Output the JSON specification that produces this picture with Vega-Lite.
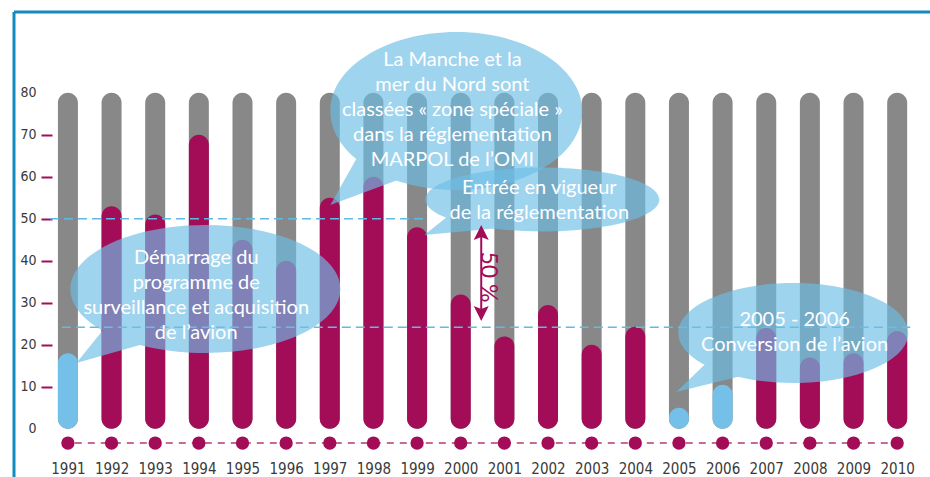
{
  "$schema": "https://vega.github.io/schema/vega-lite/v6.json",
  "autosize": {"type": "none"},
  "width": 872,
  "height": 378,
  "padding": {"left": 52, "top": 76, "right": 6, "bottom": 23},
  "background": "#ffffff",
  "config": {"view": {"stroke": null}},
  "data": {
    "values": [
      {"annee": 1991, "valeur": 18, "total": 80, "statut": "transition"},
      {"annee": 1992, "valeur": 53, "total": 80, "statut": "standard"},
      {"annee": 1993, "valeur": 51, "total": 80, "statut": "standard"},
      {"annee": 1994, "valeur": 70, "total": 80, "statut": "standard"},
      {"annee": 1995, "valeur": 45, "total": 80, "statut": "standard"},
      {"annee": 1996, "valeur": 40, "total": 80, "statut": "standard"},
      {"annee": 1997, "valeur": 55, "total": 80, "statut": "standard"},
      {"annee": 1998, "valeur": 60, "total": 80, "statut": "standard"},
      {"annee": 1999, "valeur": 48, "total": 80, "statut": "standard"},
      {"annee": 2000, "valeur": 32, "total": 80, "statut": "standard"},
      {"annee": 2001, "valeur": 22, "total": 80, "statut": "standard"},
      {"annee": 2002, "valeur": 29.5, "total": 80, "statut": "standard"},
      {"annee": 2003, "valeur": 20, "total": 80, "statut": "standard"},
      {"annee": 2004, "valeur": 24.3, "total": 80, "statut": "standard"},
      {"annee": 2005, "valeur": 5, "total": 80, "statut": "transition"},
      {"annee": 2006, "valeur": 10.5, "total": 80, "statut": "transition"},
      {"annee": 2007, "valeur": 24, "total": 80, "statut": "standard"},
      {"annee": 2008, "valeur": 17, "total": 80, "statut": "standard"},
      {"annee": 2009, "valeur": 18, "total": 80, "statut": "standard"},
      {"annee": 2010, "valeur": 23.3, "total": 80, "statut": "standard"}
    ]
  },
  "layer": [
    {
      "data": {"values": [{}]},
      "mark": {"type": "rule", "color": "#138bbf", "strokeWidth": 3},
      "encoding": {
        "x": {"datum": 1989.765, "type": "quantitative", "scale": {"domain": [1990.75, 2010.5], "nice": false, "zero": false}},
        "x2": {"datum": 2011.5},
        "y": {"datum": 99.24, "type": "quantitative", "scale": {"domain": [-6, 84], "nice": false, "zero": false}}
      }
    },
    {
      "data": {"values": [{}]},
      "mark": {"type": "rule", "color": "#138bbf", "strokeWidth": 3},
      "encoding": {
        "x": {"datum": 1989.765, "type": "quantitative"},
        "y": {"datum": 99.24, "type": "quantitative"},
        "y2": {"datum": -14}
      }
    },
    {
      "mark": {"type": "bar", "width": 20, "cornerRadius": 10, "color": "#878887"},
      "encoding": {
        "x": {
          "field": "annee", "type": "quantitative",
          "scale": {"domain": [1990.75, 2010.5], "nice": false, "zero": false},
          "axis": {
            "values": [1991,1992,1993,1994,1995,1996,1997,1998,1999,2000,2001,2002,2003,2004,2005,2006,2007,2008,2009,2010],
            "format": "d", "title": null, "grid": false, "domain": false, "ticks": false, "tickSize": 0,
            "labelPadding": 7, "labelFont": "Liberation Sans Narrow, DejaVu Sans Condensed, Lato", "labelFontSize": 15,
            "labelColor": "#3a3a3a", "labelFlush": false, "labelOverlap": false
          }
        },
        "y": {
          "field": "total", "type": "quantitative",
          "scale": {"domain": [-6, 84], "nice": false, "zero": false},
          "axis": {
            "values": [0, 10, 20, 30, 40, 50, 60, 70, 80],
            "title": null, "grid": false, "domain": false, "tickSize": 11, "tickWidth": 2,
            "tickColor": {"condition": {"test": "datum.value === 0 || datum.value === 80", "value": "transparent"}, "value": "#a30d58"},
            "labelPadding": 5, "labelFont": "Liberation Sans Narrow, DejaVu Sans Condensed, Lato", "labelFontSize": 14,
            "labelColor": "#3a3a3a"
          }
        },
        "y2": {"datum": 0}
      }
    },
    {
      "mark": {"type": "bar", "width": 20, "cornerRadius": 10},
      "encoding": {
        "x": {"field": "annee", "type": "quantitative"},
        "y": {"field": "valeur", "type": "quantitative"},
        "y2": {"datum": 0},
        "color": {"field": "statut", "type": "nominal", "scale": {"domain": ["standard", "transition"], "range": ["#a30d58", "#74c0e8"]}, "legend": null}
      }
    },
    {
      "data": {"values": [{"debut": 1990.59, "fin": 1999.2, "niveau": 50}, {"debut": 1990.86, "fin": 2010.3, "niveau": 24.2}]},
      "mark": {"type": "rule", "color": "#62b9e4", "strokeWidth": 1.5, "strokeDash": [9, 5]},
      "encoding": {
        "x": {"field": "debut", "type": "quantitative"},
        "x2": {"field": "fin"},
        "y": {"field": "niveau", "type": "quantitative"}
      }
    },
    {
      "data": {"values": [{}]},
      "mark": {"type": "rule", "color": "#b23a78", "strokeWidth": 1.5, "strokeDash": [7, 6]},
      "encoding": {
        "x": {"datum": 1990.86, "type": "quantitative"},
        "x2": {"datum": 2010.1},
        "y": {"datum": -3.4, "type": "quantitative"}
      }
    },
    {
      "mark": {"type": "point", "shape": "circle", "filled": true, "size": 177, "color": "#a30d58", "opacity": 1},
      "encoding": {
        "x": {"field": "annee", "type": "quantitative"},
        "y": {"datum": -3.4, "type": "quantitative"}
      }
    },
    {
      "data": {"values": [{}]},
      "mark": {"type": "point", "filled": true, "size": 40000, "color": "#6dbde6", "opacity": 0.66, "strokeWidth": 0,
        "shape": "M1.35,0C1.35,0.3535,0.7456,0.64,0,0.64C-0.7456,0.64,-1.35,0.3535,-1.35,0C-1.35,-0.3535,-0.7456,-0.64,0,-0.64C0.7456,-0.64,1.35,-0.3535,1.35,0ZM-1,0.38L-0.62,0.55L-1.29,0.74Z"},
      "encoding": {"x": {"datum": 1994.15, "type": "quantitative"}, "y": {"datum": 33.3, "type": "quantitative"}}
    },
    {
      "data": {"values": [{}]},
      "mark": {"type": "point", "filled": true, "size": 40000, "color": "#6dbde6", "opacity": 0.66, "strokeWidth": 0,
        "shape": "M1.26,0C1.26,0.4363,0.6959,0.79,0,0.79C-0.6959,0.79,-1.26,0.4363,-1.26,0C-1.26,-0.4363,-0.6959,-0.79,0,-0.79C0.6959,-0.79,1.26,-0.4363,1.26,0ZM-0.99,0.46L-0.56,0.68L-1.26,0.94Z"},
      "encoding": {"x": {"datum": 1999.9, "type": "quantitative"}, "y": {"datum": 75.67, "type": "quantitative"}}
    },
    {
      "data": {"values": [{}]},
      "mark": {"type": "point", "filled": true, "size": 40000, "color": "#6dbde6", "opacity": 0.66, "strokeWidth": 0,
        "shape": "M1.17,0C1.17,0.1767,0.6462,0.32,0,0.32C-0.6462,0.32,-1.17,0.1767,-1.17,0C-1.17,-0.1767,-0.6462,-0.32,0,-0.32C0.6462,-0.32,1.17,-0.1767,1.17,0ZM-0.93,0.155L-0.43,0.285L-1.18,0.355Z"},
      "encoding": {"x": {"datum": 2001.87, "type": "quantitative"}, "y": {"datum": 54.6, "type": "quantitative"}}
    },
    {
      "data": {"values": [{}]},
      "mark": {"type": "point", "filled": true, "size": 40000, "color": "#6dbde6", "opacity": 0.66, "strokeWidth": 0,
        "shape": "M1.15,0C1.15,0.2762,0.6351,0.5,0,0.5C-0.6351,0.5,-1.15,0.2762,-1.15,0C-1.15,-0.2762,-0.6351,-0.5,0,-0.5C0.6351,-0.5,1.15,-0.2762,1.15,0ZM-0.87,0.3L-0.48,0.42L-1.17,0.59Z"},
      "encoding": {"x": {"datum": 2007.62, "type": "quantitative"}, "y": {"datum": 22.81, "type": "quantitative"}}
    },
    {
      "data": {"values": [
        {"px": 1993.94, "py": 40.67, "texte": ["Démarrage du", "programme de", "surveillance et acquisition", "de l’avion"]},
        {"px": 1999.81, "py": 87.81, "texte": ["La Manche et la", "mer du Nord sont", "classées « zone spéciale »", "dans la réglementation", "MARPOL de l’OMI"]},
        {"px": 2001.8, "py": 57.33, "texte": ["Entrée en vigueur", "de la réglementation"]},
        {"px": 2007.65, "py": 25.9, "texte": ["2005 - 2006", "Conversion de l’avion"]}
      ]},
      "mark": {"type": "text", "color": "#ffffff", "font": "Lato", "fontSize": 20, "lineHeight": 25, "align": "center", "baseline": "middle"},
      "encoding": {
        "x": {"field": "px", "type": "quantitative"},
        "y": {"field": "py", "type": "quantitative"},
        "text": {"field": "texte"}
      }
    },
    {
      "data": {"values": [{}]},
      "mark": {"type": "rule", "color": "#a30d58", "strokeWidth": 2},
      "encoding": {
        "x": {"datum": 2000.47, "type": "quantitative"},
        "y": {"datum": 46.14, "type": "quantitative"},
        "y2": {"datum": 28.05}
      }
    },
    {
      "data": {"values": [{}]},
      "mark": {"type": "point", "filled": true, "size": 400, "color": "#a30d58", "opacity": 1, "strokeWidth": 0, "shape": "M0,-1L0.75,0.5L0,0.2L-0.75,0.5Z"},
      "encoding": {"x": {"datum": 2000.47, "type": "quantitative"}, "y": {"datum": 46.14, "type": "quantitative"}}
    },
    {
      "data": {"values": [{}]},
      "mark": {"type": "point", "filled": true, "size": 400, "color": "#a30d58", "opacity": 1, "strokeWidth": 0, "shape": "M0,1L0.75,-0.5L0,-0.2L-0.75,-0.5Z"},
      "encoding": {"x": {"datum": 2000.47, "type": "quantitative"}, "y": {"datum": 28.05, "type": "quantitative"}}
    },
    {
      "data": {"values": [{"texte": "50 %"}]},
      "mark": {"type": "text", "color": "#a30d58", "font": "Lato", "fontSize": 23, "angle": 90, "align": "center", "baseline": "middle"},
      "encoding": {
        "x": {"datum": 2000.62, "type": "quantitative"},
        "y": {"datum": 36.14, "type": "quantitative"},
        "text": {"field": "texte"}
      }
    }
  ]
}
